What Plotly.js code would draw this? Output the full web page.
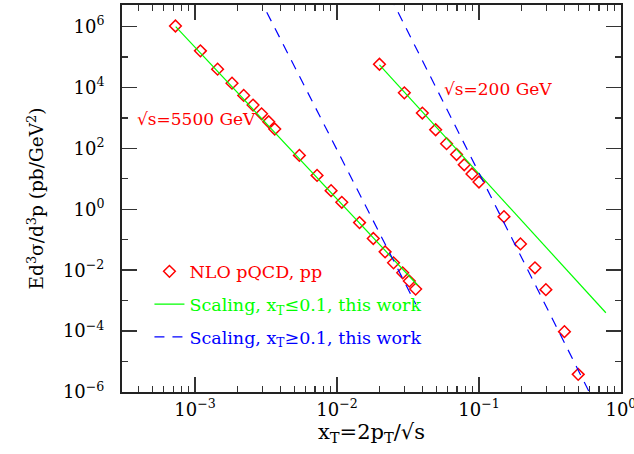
<!DOCTYPE html>
<html>
<head>
<meta charset="utf-8">
<script src="https://cdn.plot.ly/plotly-3.0.1.min.js"></script>
<style>html,body{margin:0;padding:0;background:#fff;}#chart{width:634px;height:454px;}</style>
</head>
<body>
<div id="chart"></div>
<script>
// NLO pQCD points, sqrt(s)=5500 GeV
var xT5500 = [7.27e-4, 1.09e-3, 1.44e-3, 1.82e-3, 2.2e-3, 2.56e-3, 2.94e-3, 3.3e-3, 3.64e-3, 5.43e-3, 7.23e-3, 9.08e-3, 1.08e-2, 1.44e-2, 1.80e-2, 2.18e-2, 2.5e-2, 2.9e-2, 3.23e-2, 3.58e-2];
var sig5500 = [1.05e6, 1.6e5, 4.0e4, 1.39e4, 5.5e3, 2.65e3, 1.37e3, 750, 433, 59, 13, 4.1, 1.7, 0.366, 0.11, 0.04, 0.0175, 8.2e-3, 4.4e-3, 2.4e-3];
// NLO pQCD points, sqrt(s)=200 GeV
var xT200 = [0.0199, 0.0298, 0.0399, 0.0495, 0.0591, 0.0695, 0.0787, 0.0892, 0.1, 0.15, 0.196, 0.248, 0.296, 0.4, 0.5];
var sig200 = [5.8e4, 6.7e3, 1.45e3, 410, 143, 63, 29, 14.5, 7.9, 0.575, 0.073, 0.012, 2.3e-3, 9.6e-5, 3.8e-6];
// Scaling xT<=0.1 (green)
var lowX5500 = [7.3e-4, 0.037];
var lowY5500 = [1.0e6, 3.2e-3];
var lowX200 = [0.0199, 0.783];
var lowY200 = [5.5e4, 4.0e-4];
// Scaling xT>=0.1 (blue dashed)
var highX5500 = [2.8e-3, 0.0359];
var highY5500 = [1.0e7, 7.6e-4];
var highX200 = [0.0236, 0.598];
var highY200 = [1.0e7, 1.0e-6];
// tick label exponents
var xTickExp = [-3, -2, -1, 0];
var yTickExp = [-6, -4, -2, 0, 2, 4, 6];

function powLabel(e) { return '10<sup>' + (e < 0 ? '\u2212' + (-e) : e) + '</sup>'; }

var FONT = 'DejaVu Serif';
var RED = '#ff0000', GREEN = '#00ff00', BLUE = '#0000ff';

var traces = [
  {x: xT5500, y: sig5500, mode: 'markers', marker: {symbol: 'diamond-open', size: 9, color: RED, line: {width: 1.5, color: RED}},
   name: '<span style="color:#ff0000">NLO pQCD, pp</span>', legendgroup: 'a', showlegend: true},
  {x: xT200, y: sig200, mode: 'markers', marker: {symbol: 'diamond-open', size: 9, color: RED, line: {width: 1.5, color: RED}},
   legendgroup: 'a', showlegend: false},
  {x: lowX5500, y: lowY5500, mode: 'lines', line: {color: GREEN, width: 1.2},
   name: '<span style="color:#00ff00">Scaling, x<sub>T</sub>≤0.1, this work</span>', legendgroup: 'b', showlegend: true},
  {x: lowX200, y: lowY200, mode: 'lines', line: {color: GREEN, width: 1.2}, legendgroup: 'b', showlegend: false},
  {x: highX5500, y: highY5500, mode: 'lines', line: {color: BLUE, width: 1.2, dash: '10px,8px'},
   name: '<span style="color:#0000ff">Scaling, x<sub>T</sub>≥0.1, this work</span>', legendgroup: 'c', showlegend: true},
  {x: highX200, y: highY200, mode: 'lines', line: {color: BLUE, width: 1.2, dash: '10px,8px'}, legendgroup: 'c', showlegend: false}
];

var axisCommon = {
  type: 'log', showgrid: false, zeroline: false,
  showline: true, linecolor: '#222', linewidth: 2, mirror: 'allticks',
  ticks: 'inside', ticklen: 15, tickwidth: 1.5, tickcolor: '#333',
  tickmode: 'array', ticklabeloverflow: 'allow',
  tickfont: {family: FONT, size: 18, color: '#000'}
};

var layout = {
  width: 634, height: 454,
  margin: {l: 122, r: 13, t: 5, b: 62},
  paper_bgcolor: '#fff', plot_bgcolor: '#fff',
  font: {family: FONT, color: '#000'},
  showlegend: true,
  legend: {x: 0.055, y: 0.358, xanchor: 'left', yanchor: 'top', bgcolor: 'rgba(0,0,0,0)',
           font: {family: FONT, size: 17.5}, traceorder: 'grouped', tracegroupgap: 7, itemwidth: 30},
  xaxis: Object.assign({}, axisCommon, {
    range: [-3.515, 0.0005], ticklabelstandoff: 0,
    tickvals: xTickExp.map(function (e) { return Math.pow(10, e); }),
    ticktext: xTickExp.map(powLabel),
    minor: {ticks: 'inside', ticklen: 6, tickwidth: 1.2, tickcolor: '#333', dtick: 'D1'},
    title: {text: 'x<sub>T</sub>=2p<sub>T</sub>/√s', font: {family: FONT, size: 21}, standoff: 4}
  }),
  yaxis: Object.assign({}, axisCommon, {
    range: [-6, 6.71], ticklabelstandoff: 12,
    tickvals: yTickExp.map(function (e) { return Math.pow(10, e); }),
    ticktext: yTickExp.map(powLabel),
    minor: {ticks: 'inside', ticklen: 6, tickwidth: 1.2, tickcolor: '#333', dtick: 1},
    title: {text: 'Ed<sup>3</sup>σ/d<sup>3</sup>p (pb/GeV<sup>2</sup>)', font: {family: FONT, size: 18.5}, standoff: 14}
  }),
  annotations: [
    {x: -3.42, y: 2.97, xref: 'x', yref: 'y', text: '√s=5500 GeV', showarrow: false, xanchor: 'left',
     font: {family: FONT, size: 17, color: RED}},
    {x: -1.258, y: 3.96, xref: 'x', yref: 'y', text: '√s=200 GeV', showarrow: false, xanchor: 'left',
     font: {family: FONT, size: 17, color: RED}}
  ]
};

Plotly.newPlot('chart', traces, layout, {staticPlot: true, displayModeBar: false});
</script>
</body>
</html>
